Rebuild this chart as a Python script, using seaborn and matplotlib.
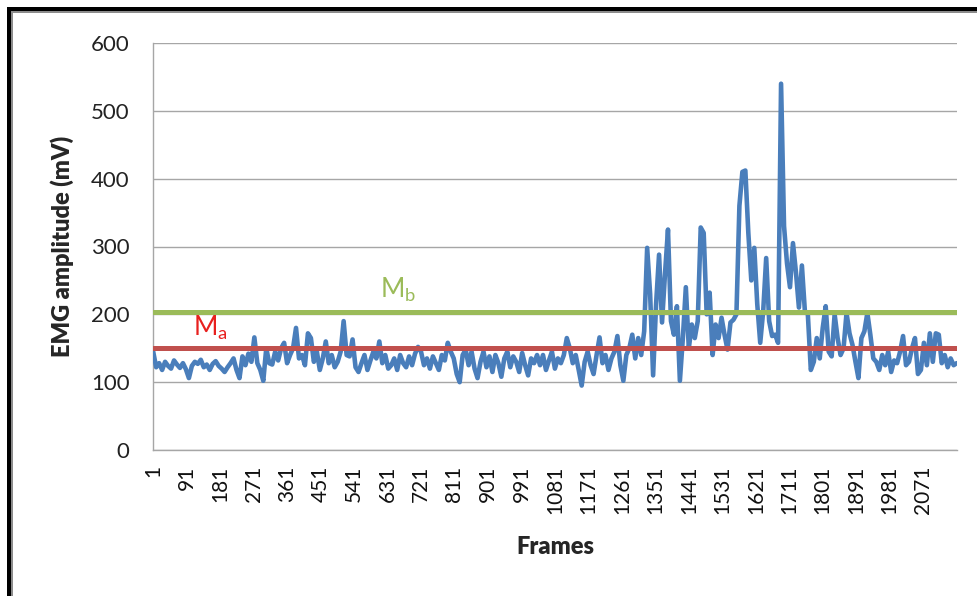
import numpy as np
import pandas as pd
import matplotlib
matplotlib.use("Agg")
import matplotlib.pyplot as plt
from matplotlib.patches import Rectangle
import seaborn as sns

# ---------------- data ----------------
frame_step = 8          # one reading every 8 frames, starting at frame 1
emg_values = [
    145, 122, 128, 118, 130, 124, 120, 132, 126, 121,   # 1 - 73
    128, 119, 106, 124, 130, 127, 133, 122, 126, 118,   # 81 - 153
    127, 131, 124, 120, 115, 122, 128, 135, 118, 106,   # 161 - 233
    138, 125, 142, 130, 166, 128, 118, 102, 150, 128,   # 241 - 313
    126, 145, 132, 150, 158, 128, 140, 150, 180, 135,   # 321 - 393
    140, 125, 172, 165, 130, 145, 118, 135, 160, 128,   # 401 - 473
    140, 122, 130, 145, 190, 140, 138, 163, 122, 115,   # 481 - 553
    128, 140, 118, 132, 145, 135, 160, 128, 140, 120,   # 561 - 633
    125, 135, 118, 140, 128, 122, 138, 125, 142, 152,   # 641 - 713
    145, 125, 135, 120, 138, 128, 118, 140, 132, 158,   # 721 - 793
    145, 135, 112, 100, 140, 148, 125, 145, 120, 106,   # 801 - 873
    130, 145, 122, 138, 115, 140, 128, 108, 135, 145,   # 881 - 953
    122, 138, 130, 115, 143, 125, 110, 135, 128, 140,   # 961 - 1033
    125, 140, 118, 132, 145, 120, 135, 128, 140, 165,   # 1041 - 1113
    150, 128, 140, 118, 95, 130, 145, 125, 112, 140,    # 1121 - 1193
    166, 128, 140, 118, 135, 145, 168, 125, 102, 140,   # 1201 - 1273
    150, 170, 135, 165, 140, 175, 298, 230, 110, 215,   # 1281 - 1353
    288, 188, 260, 325, 190, 170, 212, 102, 165, 240,   # 1361 - 1433
    150, 185, 165, 190, 328, 320, 200, 232, 140, 185,   # 1441 - 1513
    165, 195, 170, 148, 188, 192, 200, 360, 410, 412,   # 1521 - 1593
    320, 250, 298, 215, 158, 205, 283, 190, 168, 170,   # 1601 - 1673
    158, 540, 330, 275, 240, 305, 262, 210, 272, 205,   # 1681 - 1753
    200, 118, 130, 165, 135, 180, 212, 145, 138, 200,   # 1761 - 1833
    165, 140, 150, 202, 172, 155, 130, 106, 165, 175,   # 1841 - 1913
    202, 170, 135, 130, 118, 140, 125, 145, 115, 132,   # 1921 - 1993
    128, 145, 168, 125, 130, 150, 165, 112, 118, 158,   # 2001 - 2073
    125, 172, 130, 172, 170, 128, 140, 122, 135, 125,   # 2081 - 2153
    128,                                                 # 2161
]
Ma_value = 150
Mb_value = 204
tick_frames = list(range(1, 2072, 90))
tick_labels = [str(t) for t in tick_frames]
y_ticks = [0, 100, 200, 300, 400, 500, 600]

frames = np.arange(1, 1 + frame_step * len(emg_values), frame_step)
df = pd.DataFrame({"Frames": frames, "EMG": emg_values})

# ---------------- style ----------------
sns.set_style("white")
plt.rcParams["font.family"] = ["Lato", "DejaVu Sans"]
plt.rcParams["mathtext.default"] = "regular"

W, H = 977, 596
fig = plt.figure(figsize=(W / 100, H / 100), dpi=100)
fig.patch.set_facecolor("white")
ax = fig.add_axes([153 / W, 1 - 450 / H, (957 - 153) / W, (450 - 43) / H])

blue = "#4A7EBB"
red = "#C0504D"
green = "#9BBB59"
grid_c = "#A6A6A6"

sns.lineplot(data=df, x="Frames", y="EMG", ax=ax, color=blue,
             linewidth=3.3, zorder=3)
ax.axhline(Ma_value, color=red, linewidth=3.6, zorder=4)
ax.axhline(Mb_value, color=green, linewidth=3.6, zorder=4)

ax.set_xlim(0.5, frames[-1] + 1)
ax.set_ylim(0, 600)
ax.set_yticks(y_ticks)
ax.set_yticklabels([str(v) for v in y_ticks], fontsize=16, color="#222222")
ax.set_xticks(tick_frames)
ax.set_xticklabels(tick_labels, rotation=90, fontsize=15, color="#111111",
                   va="top", ha="center")
ax.tick_params(axis="y", length=0, pad=17)
ax.tick_params(axis="x", length=0, pad=11)

ax.yaxis.grid(True, color=grid_c, linewidth=1.0, zorder=0)
ax.xaxis.grid(False)
ax.set_axisbelow(True)
for s in ["top", "right"]:
    ax.spines[s].set_visible(False)
for s in ["left", "bottom"]:
    ax.spines[s].set_color(grid_c)
    ax.spines[s].set_linewidth(1.0)

ax.set_xlabel("Frames", fontsize=17, fontweight="heavy", labelpad=16)
ax.set_ylabel("EMG amplitude (mV)", fontsize=17, fontweight="heavy", labelpad=12)

ax.text(108, 169, r"$\mathregular{M_a}$", color="#E8201E", fontsize=19,
        ha="left", va="baseline", zorder=5)
ax.text(611, 224, r"$\mathregular{M_b}$", color=green, fontsize=19,
        ha="left", va="baseline", zorder=5)

# picture frame (black border top/left with grey inner line)
def px_rect(x0, y0, x1, y1, color):
    fig.patches.append(Rectangle((x0 / W, 1 - y1 / H), (x1 - x0) / W,
                                 (y1 - y0) / H, transform=fig.transFigure,
                                 facecolor=color, edgecolor="none", zorder=10))

px_rect(7, 7, W, 11, "black")
px_rect(7, 7, 11, H, "black")
px_rect(11, 11, W, 13, "#8C8C8C")
px_rect(11, 11, 13, H, "#8C8C8C")

fig.savefig("out.png", dpi=100)
